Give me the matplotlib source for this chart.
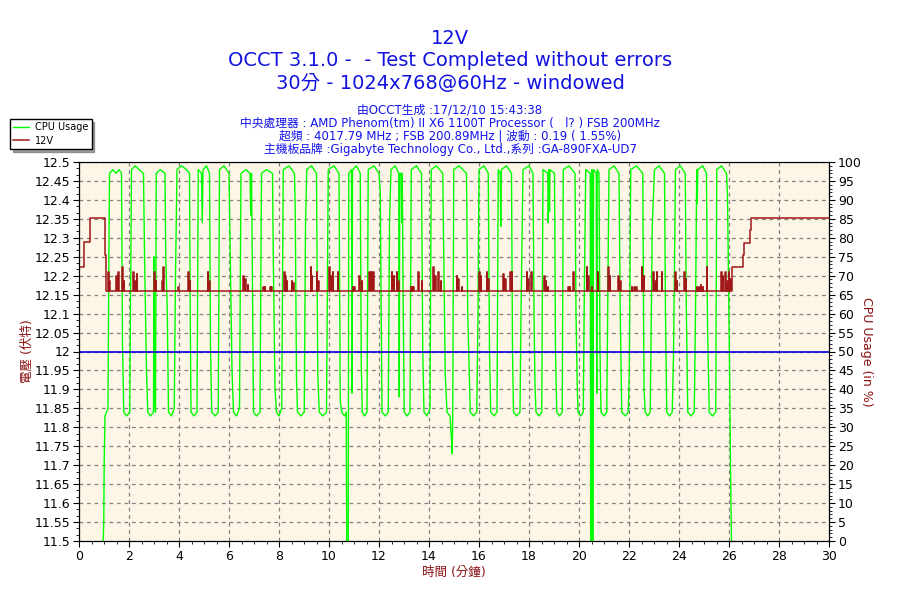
import matplotlib
matplotlib.use("Agg")
import matplotlib.pyplot as plt
from matplotlib.ticker import MultipleLocator, FixedLocator
import numpy as np

plt.rcParams['font.family'] = ['DejaVu Sans', 'Noto Sans CJK TC']

# --- textos ---
title_lines = ["12V", "OCCT 3.1.0 -  - Test Completed without errors",
               "30分 - 1024x768@60Hz - windowed"]
info_lines = ["由OCCT生成 :17/12/10 15:43:38",
              "中央處理器 : AMD Phenom(tm) II X6 1100T Processor (   l? ) FSB 200MHz",
              "超頻 : 4017.79 MHz ; FSB 200.89MHz | 波動 : 0.19 ( 1.55%)",
              "主機板品牌 :Gigabyte Technology Co., Ltd.,系列 :GA-890FXA-UD7"]

# --- CPU Usage (%): tiempo en minutos ---
cpu_t = [0.97, 0.99, 1.01, 1.04, 1.10, 1.16, 1.19, 1.22, 1.35, 1.48, 1.60, 1.70,
         1.74, 1.79, 1.90, 2.03, 2.06, 2.10, 2.25, 2.40, 2.58,
         2.62, 2.70, 2.75, 2.86, 2.98, 3.00, 3.02, 3.06, 3.09, 3.25, 3.44,
         3.47, 3.53, 3.58, 3.70, 3.81, 3.86, 3.92, 4.10, 4.30, 4.42,
         4.45, 4.48, 4.60, 4.72, 4.77, 4.90, 4.93, 4.96, 5.10, 5.22,
         5.26, 5.31, 5.45, 5.57, 5.62, 5.80, 6.00,
         6.05, 6.12, 6.18, 6.30, 6.42, 6.48, 6.68, 6.84, 6.87, 6.90, 6.93,
         6.98, 7.10, 7.24, 7.30, 7.50, 7.74,
         7.77, 7.84, 7.90, 8.00, 8.11, 8.17, 8.40, 8.62,
         8.65, 8.70, 8.74, 8.88, 9.01, 9.06, 9.11, 9.30, 9.50,
         9.55, 9.61, 9.75, 9.90, 9.97, 10.20, 10.40,
         10.45, 10.51, 10.62, 10.69, 10.71, 10.77, 10.79, 10.90, 10.92, 10.94, 11.10, 11.25,
         11.29, 11.33, 11.42, 11.52, 11.57, 11.80, 12.00,
         12.05, 12.12, 12.25, 12.37, 12.42, 12.48, 12.65, 12.79, 12.81, 12.83, 12.89, 12.91, 12.93,
         12.97, 13.01, 13.12, 13.24, 13.29, 13.50, 13.70,
         13.75, 13.80, 13.92, 14.04, 14.09, 14.30, 14.55,
         14.60, 14.65, 14.72, 14.84, 14.89, 14.93, 14.95, 14.99, 15.20, 15.50,
         15.55, 15.61, 15.65, 15.78, 15.91, 15.96, 16.00, 16.20, 16.37,
         16.42, 16.47, 16.60, 16.72, 16.77, 16.85, 16.87, 16.89, 17.10, 17.30,
         17.34, 17.38, 17.50, 17.64, 17.68, 17.76, 18.00, 18.16,
         18.20, 18.24, 18.28, 18.40, 18.51, 18.56, 18.75, 18.77, 18.80, 18.82, 18.84, 19.02,
         19.06, 19.11, 19.22, 19.33, 19.37, 19.60, 19.84,
         19.88, 19.93, 19.96, 20.06, 20.17, 20.22, 20.27, 20.45, 20.47, 20.49, 20.51, 20.53,
         20.54, 20.56, 20.58, 20.69, 20.71, 20.73, 20.80,
         20.84, 20.88, 21.00, 21.11, 21.16, 21.20, 21.40, 21.60,
         21.65, 21.71, 21.85, 21.97, 22.01, 22.07, 22.30, 22.55,
         22.60, 22.65, 22.75, 22.85, 22.93, 23.02, 23.20, 23.42,
         23.46, 23.51, 23.62, 23.73, 23.78, 23.86, 24.05, 24.25,
         24.29, 24.35, 24.48, 24.61, 24.66, 24.71, 24.73, 24.75, 24.95, 25.10,
         25.14, 25.21, 25.34, 25.47, 25.51, 25.70, 25.90,
         25.94, 26.02, 26.07, 26.10]
cpu_v = [0, 5, 22, 33, 34, 35, 70, 97, 98, 97, 98, 97,
         52, 34, 33, 34, 62, 98, 99, 98, 97,
         76, 45, 34, 33, 34, 75, 39, 34, 97, 98, 97,
         75, 61, 34, 33, 35, 70, 98, 99, 98, 97,
         60, 34, 33, 34, 98, 97, 84, 98, 99, 97,
         51, 34, 33, 34, 98, 99, 97,
         75, 45, 34, 33, 35, 97, 98, 97, 86, 97, 75,
         34, 33, 34, 97, 98, 97,
         76, 40, 34, 33, 35, 98, 99, 97,
         87, 43, 34, 33, 34, 83, 98, 99, 97,
         44, 34, 33, 34, 98, 99, 97,
         37, 34, 33, 34, 0, 0, 97, 98, 39, 98, 99, 97,
         47, 34, 33, 34, 98, 99, 97,
         92, 34, 33, 34, 84, 98, 99, 97, 38, 97, 97, 84, 97,
         60, 34, 33, 34, 98, 99, 97,
         50, 34, 33, 35, 98, 99, 97,
         70, 44, 34, 33, 28, 23, 34, 98, 99, 97,
         60, 44, 34, 33, 34, 60, 98, 99, 97,
         50, 34, 33, 34, 98, 97, 83, 98, 99, 97,
         50, 34, 33, 34, 60, 98, 99, 97,
         60, 41, 34, 33, 34, 98, 97, 84, 98, 87, 98, 97,
         50, 34, 33, 34, 98, 99, 97,
         60, 41, 34, 33, 34, 70, 98, 97, 0, 0, 98, 97,
         0, 0, 98, 97, 39, 98, 97,
         50, 34, 33, 34, 70, 98, 99, 97,
         60, 34, 33, 34, 44, 98, 99, 97,
         40, 34, 33, 34, 83, 98, 99, 97,
         60, 34, 33, 34, 49, 98, 99, 97,
         63, 34, 33, 34, 60, 98, 89, 98, 99, 97,
         57, 34, 33, 34, 98, 99, 97,
         91, 47, 14, 0]

# --- 12V (voltios) ---
v12_base = 12.16
v12_start_t = [0.0, 0.19, 0.45, 1.04, 1.06]
v12_start_v = [12.222, 12.288, 12.351, 12.255, v12_base]
spike_t = [1.17, 1.21, 1.48, 1.57, 1.73, 1.79, 2.17, 2.23, 2.30, 3.01, 3.06, 3.33, 3.37,
           3.97, 4.37, 4.43, 5.15, 5.20, 6.57, 6.64, 6.75, 7.37, 7.43, 7.64, 7.68,
           8.20, 8.25, 8.31, 8.51, 8.57, 9.27, 9.31, 9.51, 9.57, 10.00, 10.08, 10.15,
           10.35, 10.95, 11.01, 11.21, 11.31, 11.60, 11.68, 11.76, 12.51, 12.58, 12.71,
           12.77, 13.27, 13.32, 13.37, 13.57, 13.71, 14.17, 14.24, 14.37, 14.46, 15.11,
           15.17, 15.31, 16.00, 16.07, 16.31, 16.37, 16.97, 17.04, 17.24, 17.31, 17.91,
           17.97, 18.08, 18.61, 18.67, 18.75, 19.57, 19.62, 19.77, 20.31, 20.36, 20.51,
           20.75, 21.17, 21.23, 21.57, 21.65, 22.11, 22.20, 22.28, 22.51, 22.58, 22.97,
           23.04, 23.10, 23.30, 23.84, 23.90, 24.21, 24.26, 24.71, 24.78, 24.86, 24.94,
           25.10, 25.68, 25.75, 25.84, 25.90, 25.98, 26.04]
spike_v = [12.21, 12.185, 12.20, 12.21, 12.222, 12.185, 12.21, 12.185, 12.205, 12.21, 12.185, 12.185, 12.222,
           12.17, 12.21, 12.185, 12.21, 12.185, 12.20, 12.19, 12.175, 12.17, 12.17, 12.17, 12.17,
           12.21, 12.20, 12.185, 12.185, 12.18, 12.222, 12.20, 12.21, 12.185, 12.222, 12.20, 12.21,
           12.21, 12.17, 12.17, 12.20, 12.185, 12.21, 12.21, 12.21, 12.21, 12.20, 12.21,
           12.185, 12.17, 12.17, 12.17, 12.21, 12.185, 12.222, 12.20, 12.21, 12.185, 12.20,
           12.19, 12.17, 12.21, 12.20, 12.21, 12.19, 12.205, 12.19, 12.21, 12.21, 12.21,
           12.19, 12.21, 12.20, 12.185, 12.17, 12.17, 12.17, 12.21, 12.222, 12.20, 12.17,
           12.21, 12.222, 12.20, 12.20, 12.185, 12.17, 12.17, 12.17, 12.222, 12.20, 12.21,
           12.185, 12.21, 12.21, 12.21, 12.185, 12.21, 12.19, 12.17, 12.17, 12.175, 12.17,
           12.222, 12.21, 12.20, 12.21, 12.185, 12.21, 12.19]
v12_end_t = [26.10, 26.56, 26.60, 26.84, 26.87, 30.0]
v12_end_v = [12.222, 12.255, 12.287, 12.32, 12.351, 12.351]
limit_v = 12.0

# construir la serie escalonada del 12V
v12_t = list(v12_start_t)
v12_v = list(v12_start_v)
for t, v in zip(spike_t, spike_v):
    v12_t += [t, t + 0.025]
    v12_v += [v, v12_base]
v12_t += v12_end_t
v12_v += v12_end_v

x_ticks = list(range(0, 31, 2))
left_ticks = [round(11.5 + 0.05 * i, 2) for i in range(21)]
right_ticks = list(range(0, 101, 5))

fig = plt.figure(figsize=(9, 6), dpi=100)
ax2 = fig.add_axes([79 / 900, 1 - 541 / 600, 750 / 900, 379 / 600])
ax = ax2.twinx()
ax2.yaxis.tick_right()
ax2.yaxis.set_label_position('right')
ax.yaxis.tick_left()
ax.yaxis.set_label_position('left')
ax.set_zorder(ax2.get_zorder() + 1)
ax.patch.set_visible(False)
ax2.set_facecolor('#FDF6E7')

# CPU en el eje derecho
ax2.plot(cpu_t, cpu_v, color='#00FF00', lw=1.0, label='CPU Usage')
ax2.set_ylim(0, 100)
ax2.set_xlim(0, 30)
ax2.yaxis.set_major_locator(FixedLocator(right_ticks))
ax2.yaxis.set_minor_locator(MultipleLocator(1))
ax2.xaxis.set_major_locator(FixedLocator(x_ticks))
ax2.xaxis.set_minor_locator(MultipleLocator(0.5))
ax2.grid(True, which='major', color='#808080', linestyle=(0, (3, 3)), lw=0.9)
ax2.set_axisbelow(True)
ax2.set_ylabel('CPU Usage (in %)', color='#8B1010', rotation=270, fontsize=9, va='center')
ax2.yaxis.set_label_coords(1.05, 0.5)
ax2.set_xlabel('時間 (分鐘)', color='#8B1010', fontsize=9, labelpad=2)

# 12V en el eje izquierdo
ax.plot(v12_t, v12_v, color='#A01818', lw=1.1, drawstyle='steps-post', label='12V')
ax.axhline(limit_v, color='#0000DD', lw=1.2)
ax.set_ylim(11.5, 12.5)
ax.set_xlim(0, 30)
ax.yaxis.set_major_locator(FixedLocator(left_ticks))
ax.set_yticklabels([f"{v:g}" for v in left_ticks])
ax.yaxis.set_minor_locator(MultipleLocator(0.05 / 3))
ax.set_ylabel('電壓 (伏特)', color='#8B1010', fontsize=9, va='center')
ax.yaxis.set_label_coords(-0.068, 0.5)

for a in (ax, ax2):
    a.tick_params(labelsize=9, length=4, width=0.8, pad=2.5)
    a.tick_params(which='minor', length=2)
    for s in a.spines.values():
        s.set_color('black')

# títulos
ys = [38, 61, 84]
for y, line in zip(ys, title_lines):
    fig.text(0.5, 1 - y / 600, line, ha='center', va='center', fontsize=14, color='#1212E0')
ys = [110, 123, 136, 149]
for y, line in zip(ys, info_lines):
    fig.text(0.5, 1 - y / 600, line, ha='center', va='center', fontsize=8.5, color='#1414EE')

h1, l1 = ax2.get_legend_handles_labels()
h2, l2 = ax.get_legend_handles_labels()
leg = ax.legend(h1 + h2, l1 + l2, loc='upper left', bbox_to_anchor=(10 / 900, 1 - 119 / 600),
                bbox_transform=fig.transFigure, fontsize=7, frameon=True, fancybox=False,
                shadow=True, edgecolor='black', framealpha=1, handlelength=1.6,
                borderpad=0.35, labelspacing=0.35, handletextpad=0.6, borderaxespad=0)
leg.get_frame().set_linewidth(1.0)

fig.savefig('out.png', dpi=100, facecolor='white')
